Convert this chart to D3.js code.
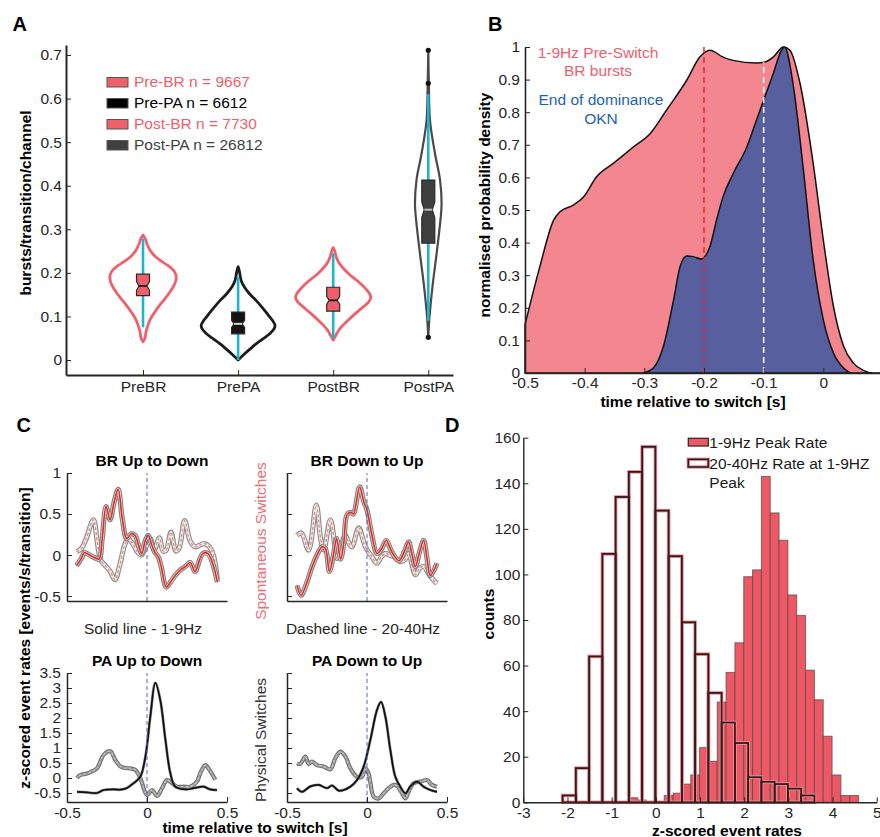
<!DOCTYPE html>
<html><head><meta charset="utf-8">
<script src="https://cdn.jsdelivr.net/npm/d3@7/dist/d3.min.js"></script>
<style>
html,body{margin:0;padding:0;background:#fff;}
svg{display:block;}
</style></head>
<body>
<svg id="fig" width="880" height="837"></svg>
<script>
// ================= Panel A: bursts per transition per channel =================
const violinCats = ["PreBR", "PrePA", "PostBR", "PostPA"];
const legendA = ["Pre-BR n = 9667", "Pre-PA n = 6612", "Post-BR n = 7730", "Post-PA n = 26812"];
const ticksA = [0, 0.1, 0.2, 0.3, 0.4, 0.5, 0.6, 0.7];
// kernel density profiles: [rate, density]
const densPreBR = [[0.042,0],[0.05,0.5],[0.065,0.8],[0.08,1.3],[0.095,2.0],[0.11,3.1],[0.125,4.3],[0.14,5.7],[0.155,7.0],[0.17,8.1],[0.185,8.7],[0.197,8.6],[0.207,7.9],[0.217,6.5],[0.227,4.8],[0.237,3.3],[0.25,2.0],[0.265,1.1],[0.278,0.6],[0.287,0]];
const densPrePA = [[0,0],[0.015,1.8],[0.028,3.5],[0.038,4.9],[0.05,6.8],[0.061,8.4],[0.072,9.5],[0.08,9.7],[0.09,9.1],[0.1,8.2],[0.107,7.6],[0.122,6.2],[0.138,4.6],[0.152,3.0],[0.168,1.6],[0.18,0.9],[0.19,0.6],[0.203,0.35],[0.214,0]];
const densPostBR = [[0.046,0],[0.055,0.6],[0.069,1.5],[0.08,2.6],[0.092,4.0],[0.107,5.9],[0.122,7.9],[0.133,9.3],[0.143,9.9],[0.152,9.6],[0.16,8.9],[0.172,7.6],[0.183,6.2],[0.197,4.2],[0.214,2.3],[0.225,1.4],[0.237,0.8],[0.25,0.4],[0.258,0]];
const densPostPA = [[0.05,0],[0.092,0.26],[0.168,1.1],[0.245,2.2],[0.321,3.2],[0.36,3.5],[0.413,3.1],[0.474,1.76],[0.55,0.45],[0.635,0.15],[0.711,0]];
// box statistics
const boxQ1 = [0.148, 0.060, 0.112, 0.268];
const boxMed = [0.170, 0.083, 0.137, 0.345];
const boxQ3 = [0.197, 0.110, 0.167, 0.413];
const boxNotch = [0.010, 0.008, 0.009, 0.018];
const whiskLo = [0.075, 0.0, 0.050, 0.090];
const whiskHi = [0.278, 0.190, 0.245, 0.610];
const outliersPostPA = [0.711, 0.635, 0.052];

// ================= Panel B: normalised densities relative to switch =================
const densBRbursts = [[-0.5,0.148],[-0.475,0.327],[-0.452,0.469],[-0.441,0.495],[-0.419,0.515],[-0.402,0.54],[-0.38,0.602],[-0.352,0.643],[-0.318,0.694],[-0.29,0.735],[-0.263,0.806],[-0.229,0.898],[-0.207,0.969],[-0.19,0.99],[-0.168,0.969],[-0.151,0.959],[-0.112,0.951],[-0.098,0.954],[-0.084,0.969],[-0.067,1.0],[-0.056,0.99],[-0.039,0.888],[-0.017,0.643],[0,0.408],[0.017,0.204],[0.034,0.082],[0.05,0.031],[0.067,0.008],[0.084,0.0],[0.095,0]];
const densOKN = [[-0.302,0],[-0.285,0.015],[-0.268,0.082],[-0.251,0.224],[-0.24,0.327],[-0.229,0.359],[-0.218,0.357],[-0.205,0.35],[-0.19,0.388],[-0.179,0.469],[-0.168,0.541],[-0.151,0.612],[-0.128,0.694],[-0.112,0.776],[-0.098,0.847],[-0.084,0.918],[-0.07,0.99],[-0.065,1.0],[-0.05,0.878],[-0.034,0.633],[-0.017,0.347],[0,0.163],[0.017,0.061],[0.034,0.015],[0.045,0]];
const medianTimes = [-0.2, -0.1];
const medianTops = [1.0, 0.955];
const ticksBx = [-0.5, -0.4, -0.3, -0.2, -0.1, 0];
const ticksBy = [0, 0.1, 0.2, 0.3, 0.4, 0.5, 0.6, 0.7, 0.8, 0.9, 1];

// ================= Panel C: z-scored event rates =================
const brUpDown19 = [[-0.44,-0.13],[-0.41,-0.04],[-0.39,0.03],[-0.36,0.0],[-0.33,-0.03],[-0.3,-0.05],[-0.28,0.2],[-0.256,0.59],[-0.231,0.43],[-0.205,0.65],[-0.18,0.8],[-0.155,0.45],[-0.127,0.2],[-0.1,0.26],[-0.075,0.24],[-0.05,0.1],[-0.033,0.02],[-0.01,0.18],[0.008,0.24],[0.03,0.12],[0.05,0.03],[0.07,-0.02],[0.09,-0.15],[0.12,-0.39],[0.15,-0.32],[0.18,-0.24],[0.21,-0.18],[0.24,-0.14],[0.27,-0.09],[0.3,-0.2],[0.33,-0.05],[0.35,0.02],[0.38,0.02],[0.41,-0.1],[0.44,-0.33]];
const brUpDown2040 = [[-0.44,0.04],[-0.41,0.08],[-0.38,0.2],[-0.335,0.43],[-0.31,0.15],[-0.29,-0.06],[-0.26,-0.13],[-0.23,-0.2],[-0.2,-0.3],[-0.17,-0.12],[-0.14,0.12],[-0.12,0.2],[-0.09,0.14],[-0.06,0.04],[-0.035,0.0],[-0.01,0.08],[0.02,0.2],[0.045,0.06],[0.077,0.21],[0.1,0.05],[0.12,0.06],[0.15,0.28],[0.18,0.05],[0.2,0.08],[0.235,0.42],[0.27,0.17],[0.3,0.1],[0.33,0.12],[0.36,0.14],[0.39,0.1],[0.415,0.0],[0.44,-0.3]];
const brDownUp19 = [[-0.4375,-0.37],[-0.4125,-0.49],[-0.38,-0.36],[-0.35,-0.18],[-0.3125,0.0],[-0.28,0.1],[-0.26,0.08],[-0.235,-0.2],[-0.21,0.0],[-0.19,0.2],[-0.165,-0.05],[-0.145,0.15],[-0.125,0.49],[-0.1,0.52],[-0.085,0.5],[-0.046,0.83],[-0.02,0.65],[0.0,0.55],[0.03,0.25],[0.0625,0.02],[0.09,0.07],[0.12,0.18],[0.145,0.08],[0.167,0.0],[0.2,-0.07],[0.235,0.05],[0.26,0.16],[0.28,0.02],[0.302,-0.14],[0.33,0.05],[0.354,0.18],[0.375,-0.04],[0.396,-0.25],[0.4375,-0.1]];
const brDownUp2040 = [[-0.4375,0.24],[-0.41,0.27],[-0.365,0.06],[-0.317,0.61],[-0.29,0.2],[-0.271,0.06],[-0.229,0.43],[-0.2,0.1],[-0.1875,-0.04],[-0.16,0.12],[-0.135,0.24],[-0.115,0.15],[-0.094,0.1],[-0.052,0.33],[-0.01,0.1],[0.03,-0.02],[0.0625,-0.1],[0.09,-0.02],[0.115,0.02],[0.14,0.0],[0.167,-0.02],[0.208,-0.08],[0.24,-0.05],[0.26,0.02],[0.302,-0.24],[0.33,-0.16],[0.354,-0.14],[0.396,-0.26],[0.4375,-0.35]];
const paUpDown19 = [[-0.4375,-0.46],[-0.375,-0.48],[-0.3125,-0.5],[-0.271,-0.4],[-0.2,-0.38],[-0.167,-0.39],[-0.125,-0.33],[-0.083,-0.17],[-0.042,0.04],[-0.01,0.71],[0.021,2.06],[0.052,3.17],[0.083,2.6],[0.115,1.28],[0.146,0.16],[0.177,-0.29],[0.25,-0.38],[0.29,-0.34],[0.354,-0.29],[0.396,-0.38],[0.4375,-0.4]];
const paUpDown2040 = [[-0.4375,0.0],[-0.417,0.1],[-0.375,0.15],[-0.344,0.22],[-0.3125,0.32],[-0.271,0.77],[-0.229,0.89],[-0.198,0.6],[-0.167,0.39],[-0.135,0.33],[-0.104,0.32],[-0.073,0.27],[-0.042,0.0],[0.0,-0.57],[0.031,-0.4],[0.0625,-0.6],[0.094,-0.34],[0.125,-0.07],[0.156,-0.17],[0.1875,-0.29],[0.229,-0.29],[0.27,-0.29],[0.3125,-0.12],[0.333,0.16],[0.365,0.43],[0.396,0.22],[0.427,-0.06]];
const paDownUp19 = [[-0.4375,-0.34],[-0.406,-0.46],[-0.354,-0.28],[-0.302,-0.23],[-0.25,-0.34],[-0.219,-0.25],[-0.177,-0.42],[-0.146,-0.4],[-0.104,-0.29],[-0.0625,-0.07],[-0.021,0.38],[0.021,1.27],[0.0625,2.27],[0.0875,2.54],[0.115,2.04],[0.146,0.93],[0.177,0.04],[0.208,-0.29],[0.24,-0.51],[0.27,-0.29],[0.3125,-0.12],[0.354,-0.29],[0.396,-0.4],[0.4375,-0.46]];
const paDownUp2040 = [[-0.4375,0.49],[-0.417,0.47],[-0.385,0.71],[-0.365,0.47],[-0.344,0.55],[-0.3125,0.43],[-0.271,0.38],[-0.229,0.29],[-0.198,0.66],[-0.167,0.88],[-0.135,0.72],[-0.104,0.32],[-0.0625,0.04],[-0.031,0.04],[-0.01,0.32],[0.01,0.15],[0.042,-0.62],[0.073,-0.68],[0.104,-0.51],[0.135,-0.34],[0.167,-0.23],[0.1875,-0.26],[0.219,-0.51],[0.24,-0.68],[0.26,-0.46],[0.29,-0.18],[0.333,-0.12],[0.375,-0.07],[0.406,-0.23],[0.4375,-0.29]];
const ticksCtop = [-0.5, 0, 0.5, 1];
const ticksCbot = [-0.5, 0, 0.5, 1, 1.5, 2, 2.5, 3, 3.5];
const ticksCx = [-0.5, 0, 0.5];

// ================= Panel D: histograms of z-scored rates =================
const peakRateStart = -0.61, peakRateBin = 0.2;
const peakRateCounts = [2,1,0,0,3,4,8,12,24,18,44,57,70,99,102,143,127,115,91,82,58,45,29,12,3,3];
const gammaRateStart = -2.11, gammaRateBin = 0.3;
const gammaRateCounts = [3,15,64,109,134,145,156,128,108,79,65,48,35,26,11,9,8,6,3];
const ticksDx = [-3,-2,-1,0,1,2,3,4,5];
const ticksDy = [0,20,40,60,80,100,120,140,160];

// ================= drawing =================
const FONT = '"Liberation Sans", Arial, Helvetica, sans-serif';
const AX = "#262626";
const PINK = "#f0606b";
const svg = d3.select("#fig").attr("font-family", FONT);
const fmt = d => String(+(+d).toFixed(2));

function styleAxis(ag, lw) {
  ag.attr("font-family", FONT).attr("font-size", 15.5);
  ag.select(".domain").attr("stroke", AX).attr("stroke-width", lw);
  ag.selectAll(".tick line").attr("stroke", AX).attr("stroke-width", 1);
  ag.selectAll(".tick text").attr("fill", AX);
  return ag;
}
function leftAxis(g, scale, ticks, x, pad, lw, labels = true) {
  const a = d3.axisLeft(scale).tickValues(ticks).tickFormat(labels ? fmt : () => "")
    .tickSize(-5).tickSizeOuter(0).tickPadding(pad);
  return styleAxis(g.append("g").attr("transform", `translate(${x},0)`).call(a), lw);
}
function bottomAxis(g, scale, ticks, y, pad, lw, format = fmt) {
  const a = d3.axisBottom(scale).tickValues(ticks).tickFormat(format)
    .tickSize(-5).tickSizeOuter(0).tickPadding(pad);
  return styleAxis(g.append("g").attr("transform", `translate(0,${y})`).call(a), lw);
}
function label(g, x, y, s, o = {}) {
  const t = g.append("text").attr("x", x).attr("y", y).text(s)
    .attr("font-size", o.size || 15.5).attr("fill", o.fill || "#000")
    .attr("text-anchor", o.anchor || "start").attr("font-weight", o.bold ? "bold" : "normal");
  if (o.rotate) t.attr("x", 0).attr("y", 0).attr("transform", `translate(${x},${y}) rotate(-90)`);
  return t;
}

// ---------- Panel A ----------
const gA = svg.append("g");
const xA = d3.scaleLinear().domain([-0.81, 3.26]).range([66, 453]);
const yA = d3.scaleLinear().domain([-0.0344, 0.723]).range([375, 45]);
const wA = d3.scaleLinear().domain([0, 1]).range([0, 3.8]);
const violinData = [densPreBR, densPrePA, densPostBR, densPostPA];
const violinStroke = [PINK, "#1c1c1c", PINK, "#4a4a4a"];
const violinWidth = [2.8, 2.8, 2.8, 2.2];
const boxFill = ["#ef5f6a", "#141414", "#ef5f6a", "#3f3f3f"];
const medColor = ["#262626", "#d9d9d9", "#262626", "#bdbdbd"];

violinData.forEach((dens, i) => {
  const c = xA(i);
  const area = d3.area().curve(d3.curveCatmullRom.alpha(0.5))
    .y(d => yA(d[0])).x0(d => c - wA(d[1])).x1(d => c + wA(d[1]));
  gA.append("path").attr("d", area(dens)).attr("fill", "none")
    .attr("stroke", violinStroke[i]).attr("stroke-width", violinWidth[i])
    .attr("stroke-linejoin", "round").attr("stroke-linecap", "round");
});
// whiskers
violinCats.forEach((c, i) => {
  gA.append("line").attr("x1", xA(i)).attr("x2", xA(i))
    .attr("y1", yA(whiskLo[i])).attr("y2", yA(whiskHi[i]))
    .attr("stroke", "#1cb5d1").attr("stroke-width", 2.6);
});
// outliers
outliersPostPA.forEach(v => {
  gA.append("circle").attr("cx", xA(3)).attr("cy", yA(v)).attr("r", 2.6).attr("fill", "#111");
});
// notched boxes
violinCats.forEach((c, i) => {
  const cx = xA(i), hw = 6.5, nw = 4;
  const pts = [
    [cx - hw, yA(boxQ1[i])], [cx + hw, yA(boxQ1[i])],
    [cx + hw, yA(boxMed[i] - boxNotch[i])], [cx + nw, yA(boxMed[i])], [cx + hw, yA(boxMed[i] + boxNotch[i])],
    [cx + hw, yA(boxQ3[i])], [cx - hw, yA(boxQ3[i])],
    [cx - hw, yA(boxMed[i] + boxNotch[i])], [cx - nw, yA(boxMed[i])], [cx - hw, yA(boxMed[i] - boxNotch[i])]
  ];
  gA.append("path").attr("d", "M" + pts.join("L") + "Z")
    .attr("fill", boxFill[i]).attr("stroke", "#2a2a2a").attr("stroke-width", 1.2);
  gA.append("line").attr("x1", cx - nw).attr("x2", cx + nw)
    .attr("y1", yA(boxMed[i])).attr("y2", yA(boxMed[i]))
    .attr("stroke", medColor[i]).attr("stroke-width", 2);
});
leftAxis(gA, yA, ticksA, 66, 4, 2);
bottomAxis(gA, xA, [0, 1, 2, 3], 375, 6, 2, i => violinCats[i]);
// legend
const legFill = [PINK, "#000", PINK, "#404040"];
const legText = [PINK, "#000", PINK, "#404040"];
legendA.forEach((s, i) => {
  const base = 87.3 + i * 21;
  gA.append("rect").attr("x", 107).attr("y", base - 9.8).attr("width", 21).attr("height", 9.5)
    .attr("fill", legFill[i]).attr("stroke", "#555").attr("stroke-width", 1);
  label(gA, 134, base, s, { fill: legText[i] });
});
label(gA, 31, 203, "bursts/transition/channel", { bold: true, rotate: true, anchor: "middle" });
label(gA, 12.5, 30.7, "A", { bold: true, size: 20 });

// ---------- Panel B ----------
const gB = svg.append("g");
const xB = d3.scaleLinear().domain([-0.5, 0.095]).range([525, 880]);
const yB = d3.scaleLinear().domain([0, 1]).range([373, 47]);
const areaB = d3.area().curve(d3.curveMonotoneX).x(d => xB(d[0])).y0(yB(0)).y1(d => yB(d[1]));
gB.append("path").attr("d", areaB(densBRbursts)).attr("fill", "#f3868f")
  .attr("stroke", "#111").attr("stroke-width", 1.5);
gB.append("path").attr("d", areaB(densOKN)).attr("fill", "#585f9f")
  .attr("stroke", "#111").attr("stroke-width", 1.5);
const medColors = ["#e8262e", "#ffffff"];
medianTimes.forEach((t, i) => {
  gB.append("line").attr("x1", xB(t)).attr("x2", xB(t)).attr("y1", yB(0)).attr("y2", yB(medianTops[i]))
    .attr("stroke", medColors[i]).attr("stroke-width", 1.5).attr("stroke-dasharray", "6,4");
});
leftAxis(gB, yB, ticksBy, 525, 5, 1.6);
bottomAxis(gB, xB, ticksBx, 373, 4, 1.6);
label(gB, 598, 58, "1-9Hz Pre-Switch", { fill: PINK, anchor: "middle" });
label(gB, 598, 76.3, "BR bursts", { fill: PINK, anchor: "middle" });
label(gB, 601, 104.5, "End of dominance", { fill: "#1f5fb4", anchor: "middle" });
label(gB, 601, 123.5, "OKN", { fill: "#1f5fb4", anchor: "middle" });
label(gB, 489.5, 205, "normalised probability density", { bold: true, rotate: true, anchor: "middle" });
label(gB, 693, 406.5, "time relative to switch [s]", { bold: true, anchor: "middle" });
label(gB, 488, 30.7, "B", { bold: true, size: 20 });

// ---------- Panel C ----------
const gC = svg.append("g");
const xCl = d3.scaleLinear().domain([-0.5, 0.5]).range([67, 227]);
const xCr = d3.scaleLinear().domain([-0.5, 0.5]).range([287, 447]);
const yCt = d3.scaleLinear().domain([-0.56, 1]).range([601, 473]);
const yCb = d3.scaleLinear().domain([-0.8, 3.5]).range([802, 673]);

function trace(g, x, y, data, kind) {
  const line = d3.line().curve(d3.curveCatmullRom.alpha(0.5)).x(d => x(d[0])).y(d => y(d[1]));
  const d = line(data);
  const add = (stroke, w, dash) => {
    const p = g.append("path").attr("d", d).attr("fill", "none").attr("stroke", stroke)
      .attr("stroke-width", w).attr("stroke-linejoin", "round");
    if (dash) p.attr("stroke-dasharray", dash);
  };
  if (kind === "brSolid") { add("#828282", 5.2); add("#e2e2e2", 2.9); add("#e8281e", 1.6); }
  if (kind === "brDash") { add("#8e8e8e", 5.2); add("#eeeeee", 2.9); add("#f0857a", 1.3, "3,2"); }
  if (kind === "paSolid") { add("#8c8c8c", 2.8); add("#111111", 1.7); }
  if (kind === "paDash") { add("#6f6f6f", 4.2); add("#c4c4c4", 1.8); add("#8a8a8a", 1, "3,2"); }
}
function subplot(x, y, ticksY, yLabels, xLabels, title, titleX, titleY, series) {
  const g = gC.append("g");
  series.forEach(s => trace(g, x, y, s[0], s[1]));
  g.append("line").attr("x1", x(0)).attr("x2", x(0)).attr("y1", y.range()[0]).attr("y2", y.range()[1])
    .attr("stroke", "#4866d6").attr("stroke-width", 1).attr("stroke-dasharray", "4,3");
  leftAxis(g, y, ticksY, x.range()[0], 6, 1.5, yLabels);
  bottomAxis(g, x, xLabels ? ticksCx : [], y.range()[0], 5, 1.5);
  label(g, titleX, titleY, title, { bold: true, anchor: "middle" });
}
subplot(xCl, yCt, ticksCtop, true, false, "BR Up to Down", 152, 466,
  [[brUpDown2040, "brDash"], [brUpDown19, "brSolid"]]);
subplot(xCr, yCt, ticksCtop, false, false, "BR Down to Up", 367, 466,
  [[brDownUp2040, "brDash"], [brDownUp19, "brSolid"]]);
subplot(xCl, yCb, ticksCbot, true, true, "PA Up to Down", 147, 666,
  [[paUpDown2040, "paDash"], [paUpDown19, "paSolid"]]);
subplot(xCr, yCb, ticksCbot, false, true, "PA Down to Up", 367, 666,
  [[paDownUp2040, "paDash"], [paDownUp19, "paSolid"]]);
label(gC, 143, 634, "Solid line - 1-9Hz", { anchor: "middle", fill: "#262626" });
label(gC, 363, 634, "Dashed line - 20-40Hz", { anchor: "middle", fill: "#262626" });
label(gC, 266, 541, "Spontaneous Switches", { rotate: true, anchor: "middle", fill: "#f06b74" });
label(gC, 266, 740, "Physical Switches", { rotate: true, anchor: "middle", fill: "#333" });
label(gC, 29.5, 638, "z-scored event rates [events/s/transition]", { bold: true, rotate: true, anchor: "middle" });
label(gC, 255, 833, "time relative to switch [s]", { bold: true, anchor: "middle" });
label(gC, 16.5, 432, "C", { bold: true, size: 20 });

// ---------- Panel D ----------
const gD = svg.append("g");
const xD = d3.scaleLinear().domain([-3, 5]).range([523.3, 876.7]);
const yD = d3.scaleLinear().domain([0, 160]).range([802.3, 437.7]);
const peakBins = peakRateCounts.map((c, i) => ({ x0: peakRateStart + i * peakRateBin, x1: peakRateStart + (i + 1) * peakRateBin, c }));
const gammaBins = gammaRateCounts.map((c, i) => ({ x0: gammaRateStart + i * gammaRateBin, x1: gammaRateStart + (i + 1) * gammaRateBin, c }));
gD.selectAll("rect.peak").data(peakBins).join("rect").attr("class", "peak")
  .attr("x", d => xD(d.x0)).attr("width", d => xD(d.x1) - xD(d.x0))
  .attr("y", d => yD(d.c)).attr("height", d => yD(0) - yD(d.c))
  .attr("fill", "#ee5864").attr("stroke", "#4a4a4a").attr("stroke-width", 1).attr("stroke-opacity", 0.7);
[["#f48c94", 3.6], ["#2e1d1d", 1.8]].forEach(([col, w]) => {
  gD.append("g").selectAll("rect").data(gammaBins).join("rect")
    .attr("x", d => xD(d.x0)).attr("width", d => xD(d.x1) - xD(d.x0))
    .attr("y", d => yD(d.c)).attr("height", d => yD(0) - yD(d.c))
    .attr("fill", "none").attr("stroke", col).attr("stroke-width", w);
});
leftAxis(gD, yD, ticksDy, 523.3, 3, 1.4);
bottomAxis(gD, xD, ticksDx, 802.3, 5, 1.4);
gD.append("rect").attr("x", 688.3).attr("y", 438.3).attr("width", 20).attr("height", 7.7)
  .attr("fill", "#ee5864").attr("stroke", "#3a2a2a").attr("stroke-width", 1.3);
gD.append("rect").attr("x", 688.3).attr("y", 459.3).attr("width", 20).attr("height", 7.7)
  .attr("fill", "#fff").attr("stroke", "#f48c94").attr("stroke-width", 3.4);
gD.append("rect").attr("x", 688.3).attr("y", 459.3).attr("width", 20).attr("height", 7.7)
  .attr("fill", "none").attr("stroke", "#2e1d1d").attr("stroke-width", 1.6);
label(gD, 709.3, 447.5, "1-9Hz Peak Rate", { fill: "#1a1a1a" });
label(gD, 709.3, 469, "20-40Hz Rate at 1-9HZ", { fill: "#1a1a1a" });
label(gD, 709.3, 488, "Peak", { fill: "#1a1a1a" });
label(gD, 493.5, 614, "counts", { bold: true, rotate: true, anchor: "middle" });
label(gD, 727, 836, "z-scored event rates", { bold: true, anchor: "middle" });
label(gD, 445, 432, "D", { bold: true, size: 20 });
</script>
</body></html>
